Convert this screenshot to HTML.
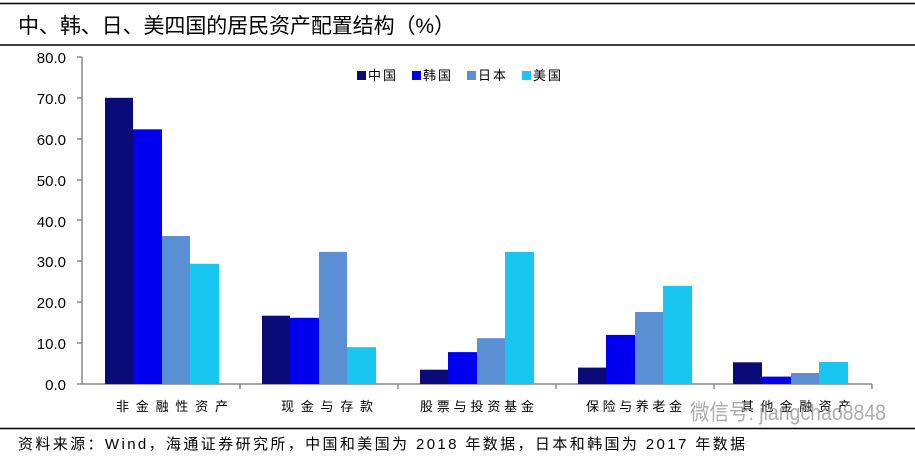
<!DOCTYPE html>
<html><head><meta charset="utf-8"><style>
body{margin:0;background:#fff;}
svg{display:block;}
text{font-family:"Liberation Sans","Noto Sans CJK SC",sans-serif;}
</style></head><body>
<svg width="915" height="457" viewBox="0 0 915 457" xmlns="http://www.w3.org/2000/svg">
<line x1="0" y1="3.5" x2="915" y2="3.5" stroke="#000" stroke-width="1.5"/>
<line x1="0" y1="45" x2="915" y2="45" stroke="#000" stroke-width="1.5"/>
<text x="18" y="33" font-size="21" fill="#000" font-family="Noto Serif CJK SC, Noto Sans CJK SC, serif" textLength="437" lengthAdjust="spacing">中、韩、日、美四国的居民资产配置结构（%）</text>
<g font-size="15" fill="#000" text-anchor="end">
<text x="66" y="63">80.0</text><text x="66" y="104">70.0</text><text x="66" y="145">60.0</text>
<text x="66" y="186">50.0</text><text x="66" y="227">40.0</text><text x="66" y="267">30.0</text>
<text x="66" y="308">20.0</text><text x="66" y="349">10.0</text><text x="66" y="390">0.0</text>
</g>
<g stroke="#888" stroke-width="1.5">
<line x1="82" y1="57" x2="82" y2="384"/>
<line x1="82" y1="384" x2="872" y2="384"/>
<line x1="77" y1="57" x2="82" y2="57"/><line x1="77" y1="98" x2="82" y2="98"/><line x1="77" y1="139" x2="82" y2="139"/>
<line x1="77" y1="180" x2="82" y2="180"/><line x1="77" y1="220" x2="82" y2="220"/><line x1="77" y1="261" x2="82" y2="261"/>
<line x1="77" y1="302" x2="82" y2="302"/><line x1="77" y1="343" x2="82" y2="343"/><line x1="77" y1="384" x2="82" y2="384"/>
<line x1="240" y1="384" x2="240" y2="389"/><line x1="398" y1="384" x2="398" y2="389"/><line x1="556" y1="384" x2="556" y2="389"/>
<line x1="714" y1="384" x2="714" y2="389"/><line x1="872" y1="384" x2="872" y2="389"/>
</g>
<g>
<rect x="105" y="97.8" width="28" height="286.2" fill="#0a0a78"/>
<rect x="133" y="129.3" width="29" height="254.7" fill="#0000ee"/>
<rect x="162" y="236" width="28" height="148" fill="#5a8fd4"/>
<rect x="190" y="263.8" width="29" height="120.2" fill="#19c6ef"/>
<rect x="262" y="315.7" width="28" height="68.3" fill="#0a0a78"/>
<rect x="290" y="317.8" width="29" height="66.2" fill="#0000ee"/>
<rect x="319" y="251.9" width="28" height="132.1" fill="#5a8fd4"/>
<rect x="347" y="347.2" width="29" height="36.8" fill="#19c6ef"/>
<rect x="420" y="369.7" width="28" height="14.3" fill="#0a0a78"/>
<rect x="448" y="352.1" width="29" height="31.9" fill="#0000ee"/>
<rect x="477" y="338.2" width="28" height="45.8" fill="#5a8fd4"/>
<rect x="505" y="251.9" width="29" height="132.1" fill="#19c6ef"/>
<rect x="578" y="367.6" width="28" height="16.4" fill="#0a0a78"/>
<rect x="606" y="334.9" width="29" height="49.1" fill="#0000ee"/>
<rect x="635" y="312" width="28" height="72" fill="#5a8fd4"/>
<rect x="663" y="285.8" width="29" height="98.2" fill="#19c6ef"/>
<rect x="733" y="362.3" width="29" height="21.7" fill="#0a0a78"/>
<rect x="762" y="376.6" width="29" height="7.4" fill="#0000ee"/>
<rect x="791" y="373" width="28" height="11" fill="#5a8fd4"/>
<rect x="819" y="362" width="29" height="22" fill="#19c6ef"/>
</g>
<g font-size="13" fill="#000" font-family="Noto Serif CJK SC, Noto Sans CJK SC, serif">
<text x="116" y="411" textLength="112" lengthAdjust="spacing">非金融性资产</text>
<text x="281" y="411" textLength="92" lengthAdjust="spacing">现金与存款</text>
<text x="420" y="411" textLength="114" lengthAdjust="spacing">股票与投资基金</text>
<text x="586" y="411" textLength="96" lengthAdjust="spacing">保险与养老金</text>
<text x="741" y="411" textLength="110" lengthAdjust="spacing">其他金融资产</text>
</g>
<g font-size="13" fill="#000" font-family="Noto Serif CJK SC, Noto Sans CJK SC, serif" letter-spacing="2">
<rect x="357" y="71" width="9" height="9" fill="#0a0a78"/><text x="368" y="80">中国</text>
<rect x="412" y="71" width="9" height="9" fill="#0000ee"/><text x="423" y="80">韩国</text>
<rect x="467" y="71" width="9" height="9" fill="#5a8fd4"/><text x="478" y="80">日本</text>
<rect x="522" y="71" width="9" height="9" fill="#19c6ef"/><text x="533" y="80">美国</text>
</g>
<text x="690" y="420" font-size="22" fill="#999" opacity="0.8" textLength="196" lengthAdjust="spacingAndGlyphs">微信号: jiangchao8848</text>
<line x1="0" y1="428.5" x2="915" y2="428.5" stroke="#000" stroke-width="1.5"/>
<text x="18" y="449" font-size="15" fill="#000" textLength="727" lengthAdjust="spacing">资料来源：Wind，海通证券研究所，中国和美国为 2018 年数据，日本和韩国为 2017 年数据</text>
</svg>
</body></html>
